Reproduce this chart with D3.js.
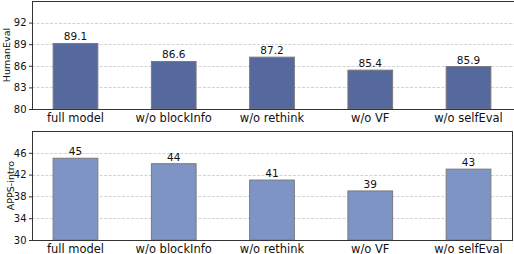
<!DOCTYPE html>
<html>
<head>
<meta charset="utf-8">
<script src="https://cdn.jsdelivr.net/npm/d3@7"></script>
<style>
  body { margin: 0; background: #fff; }
  svg { display: block; font-family: "DejaVu Sans", sans-serif; }
</style>
</head>
<body>
<svg id="chart" width="514" height="254"></svg>
<script>
var categories = ["full model", "w/o blockInfo", "w/o rethink", "w/o VF", "w/o selfEval"];
var humanEvalValues = [89.1, 86.6, 87.2, 85.4, 85.9];
var appsIntroValues = [45, 44, 41, 39, 43];
var humanEvalTicks = [80, 83, 86, 89, 92];
var appsIntroTicks = [30, 34, 38, 42, 46];

var svg = d3.select("#chart");

var x = d3.scaleBand()
    .domain(categories)
    .range([32, 512])
    .paddingInner(0.545)
    .paddingOuter(0.215);

function drawPanel(opts) {
    var g = svg.append("g");
    var y = d3.scaleLinear().domain(opts.domain).range([opts.bottom, opts.top]);

    // grid
    g.selectAll("line.grid")
        .data(opts.ticks.slice(1))
        .join("line")
        .attr("x1", opts.left).attr("x2", opts.right)
        .attr("y1", d => Math.round(y(d)) + 0.5)
        .attr("y2", d => Math.round(y(d)) + 0.5)
        .attr("stroke", "#c8c8c8")
        .attr("stroke-width", 0.8)
        .attr("stroke-dasharray", "3,1.5");

    // bars
    g.selectAll("rect.bar")
        .data(opts.values)
        .join("rect")
        .attr("x", (d, i) => x(categories[i]))
        .attr("y", d => y(d))
        .attr("width", x.bandwidth())
        .attr("height", d => opts.bottom - y(d))
        .attr("fill", opts.color)
        .attr("stroke", "#7a7a7a")
        .attr("stroke-width", 1);

    // value labels
    g.selectAll("text.val")
        .data(opts.values)
        .join("text")
        .attr("x", (d, i) => x(categories[i]) + x.bandwidth() / 2)
        .attr("y", d => y(d) - 3)
        .attr("text-anchor", "middle")
        .attr("font-size", 10.5)
        .attr("fill", "#111")
        .text(opts.fmt);

    // frame
    g.append("rect")
        .attr("x", opts.left + 0.5)
        .attr("y", opts.top + 0.5)
        .attr("width", opts.right - opts.left)
        .attr("height", opts.bottom - opts.top)
        .attr("fill", "none")
        .attr("stroke", "#333")
        .attr("stroke-width", 1);

    // y axis
    var yAxis = g.append("g")
        .attr("transform", "translate(" + (opts.left + 0.5) + ",0)")
        .call(d3.axisLeft(y).tickValues(opts.ticks).tickSize(3.5).tickPadding(2.5));
    yAxis.select(".domain").remove();
    yAxis.selectAll("line").attr("stroke", "#333");
    yAxis.selectAll("text").attr("font-size", 10).attr("font-family", "DejaVu Sans").attr("fill", "#111");

    // x labels
    g.selectAll("text.cat")
        .data(categories)
        .join("text")
        .attr("x", d => x(d) + x.bandwidth() / 2)
        .attr("y", opts.bottom + 12.5)
        .attr("text-anchor", "middle")
        .attr("font-size", 11.5)
        .attr("fill", "#111")
        .text(d => d);

    // y label
    g.append("text")
        .attr("transform", "translate(" + opts.labelX + "," + ((opts.top + opts.bottom) / 2) + ") rotate(-90)")
        .attr("text-anchor", "middle")
        .attr("font-size", 9.5)
        .attr("fill", "#111")
        .text(opts.label);
}

drawPanel({
    values: humanEvalValues, ticks: humanEvalTicks, domain: [80, 95],
    top: 1, bottom: 109, left: 32, right: 514,
    color: "#56699e", label: "HumanEval", labelX: 10,
    fmt: d => d.toFixed(1)
});

drawPanel({
    values: appsIntroValues, ticks: appsIntroTicks, domain: [30, 50],
    top: 131, bottom: 240, left: 32, right: 512,
    color: "#7d94c5", label: "APPS-intro", labelX: 13.5,
    fmt: d => d
});
</script>
</body>
</html>
